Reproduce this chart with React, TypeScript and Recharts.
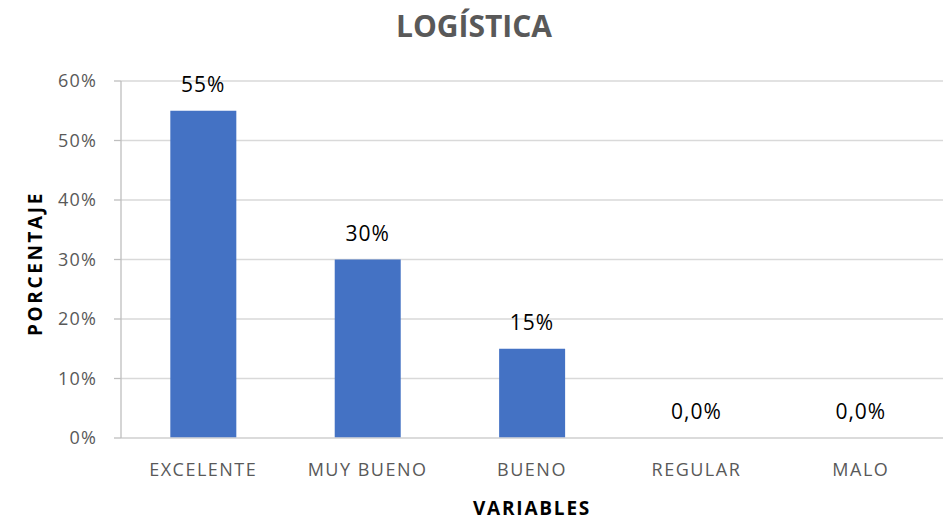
import React from "react";
import { ComposedChart, Bar, Line, XAxis, YAxis, CartesianGrid, LabelList, Label } from "recharts";

const categories = ["EXCELENTE", "MUY BUENO", "BUENO", "REGULAR", "MALO"];
const values = [0.55, 0.3, 0.15, 0, 0];
const valueLabels = ["55%", "30%", "15%", "0,0%", "0,0%"];
const yTicks = [0, 0.1, 0.2, 0.3, 0.4, 0.5, 0.6];

const data = categories.map((c, i) => ({ name: c, value: values[i], label: valueLabels[i] }));

const FONT = "'Open Sans', 'Noto Sans', sans-serif";

export default function App() {
  return (
    <div style={{ position: "absolute", left: 0, top: 0, width: 948, height: 521, background: "#fff", fontFamily: FONT }}>
      <div
        style={{
          position: "absolute",
          left: 0,
          top: 5,
          width: 948,
          textAlign: "center",
          fontSize: 30,
          lineHeight: "normal",
          fontWeight: 700,
          color: "#595959",
          fontFamily: FONT,
        }}
      >
        LOGÍSTICA
      </div>
      <ComposedChart
        width={948}
        height={521}
        data={data}
        margin={{ top: 81, right: 5, bottom: 0, left: 0 }}
        barCategoryGap="30%"
      >
        <CartesianGrid vertical={false} stroke="#d9d9d9" strokeWidth={1.3} />
        <XAxis
          dataKey="name"
          height={83}
          axisLine={{ stroke: "#d9d9d9", strokeWidth: 1.3 }}
          tickLine={false}
          tickMargin={19}
          tick={{ fill: "#595959", fontSize: 18, fontFamily: FONT, style: { letterSpacing: "1.5px" } }}
          interval={0}
        >
          <Label
            value="VARIABLES"
            position="insideBottom"
            offset={6}
            fill="#000"
            fontSize={19}
            fontWeight={700}
            fontFamily={FONT}
            style={{ letterSpacing: "1.8px" }}
          />
        </XAxis>
        <YAxis
          width={121}
          domain={[0, 0.6]}
          ticks={yTicks}
          tickFormatter={(v: number) => `${Math.round(v * 100)}%`}
          axisLine={{ stroke: "#bfbfbf", strokeWidth: 1.3 }}
          tickLine={{ stroke: "#bfbfbf", strokeWidth: 1.3 }}
          tickSize={7}
          tickMargin={17}
          tick={{ fill: "#595959", fontSize: 18, fontFamily: FONT, style: { letterSpacing: "1.2px" } }}
        >
          <Label
            value="PORCENTAJE"
            angle={-90}
            position="insideLeft"
            offset={35}
            dy={4}
            style={{ textAnchor: "middle", letterSpacing: "2.6px" }}
            fill="#000"
            fontSize={19}
            fontWeight={700}
            fontFamily={FONT}
          />
        </YAxis>
        <Bar dataKey="value" fill="#4472c4" isAnimationActive={false} />
        <Line
          dataKey="value"
          stroke="none"
          dot={false}
          activeDot={false}
          legendType="none"
          isAnimationActive={false}
        >
          <LabelList
            dataKey="label"
            position="top"
            offset={19}
            fill="#000"
            fontSize={21}
            fontFamily={FONT}
            style={{ letterSpacing: "1px" }}
          />
        </Line>
      </ComposedChart>
    </div>
  );
}
